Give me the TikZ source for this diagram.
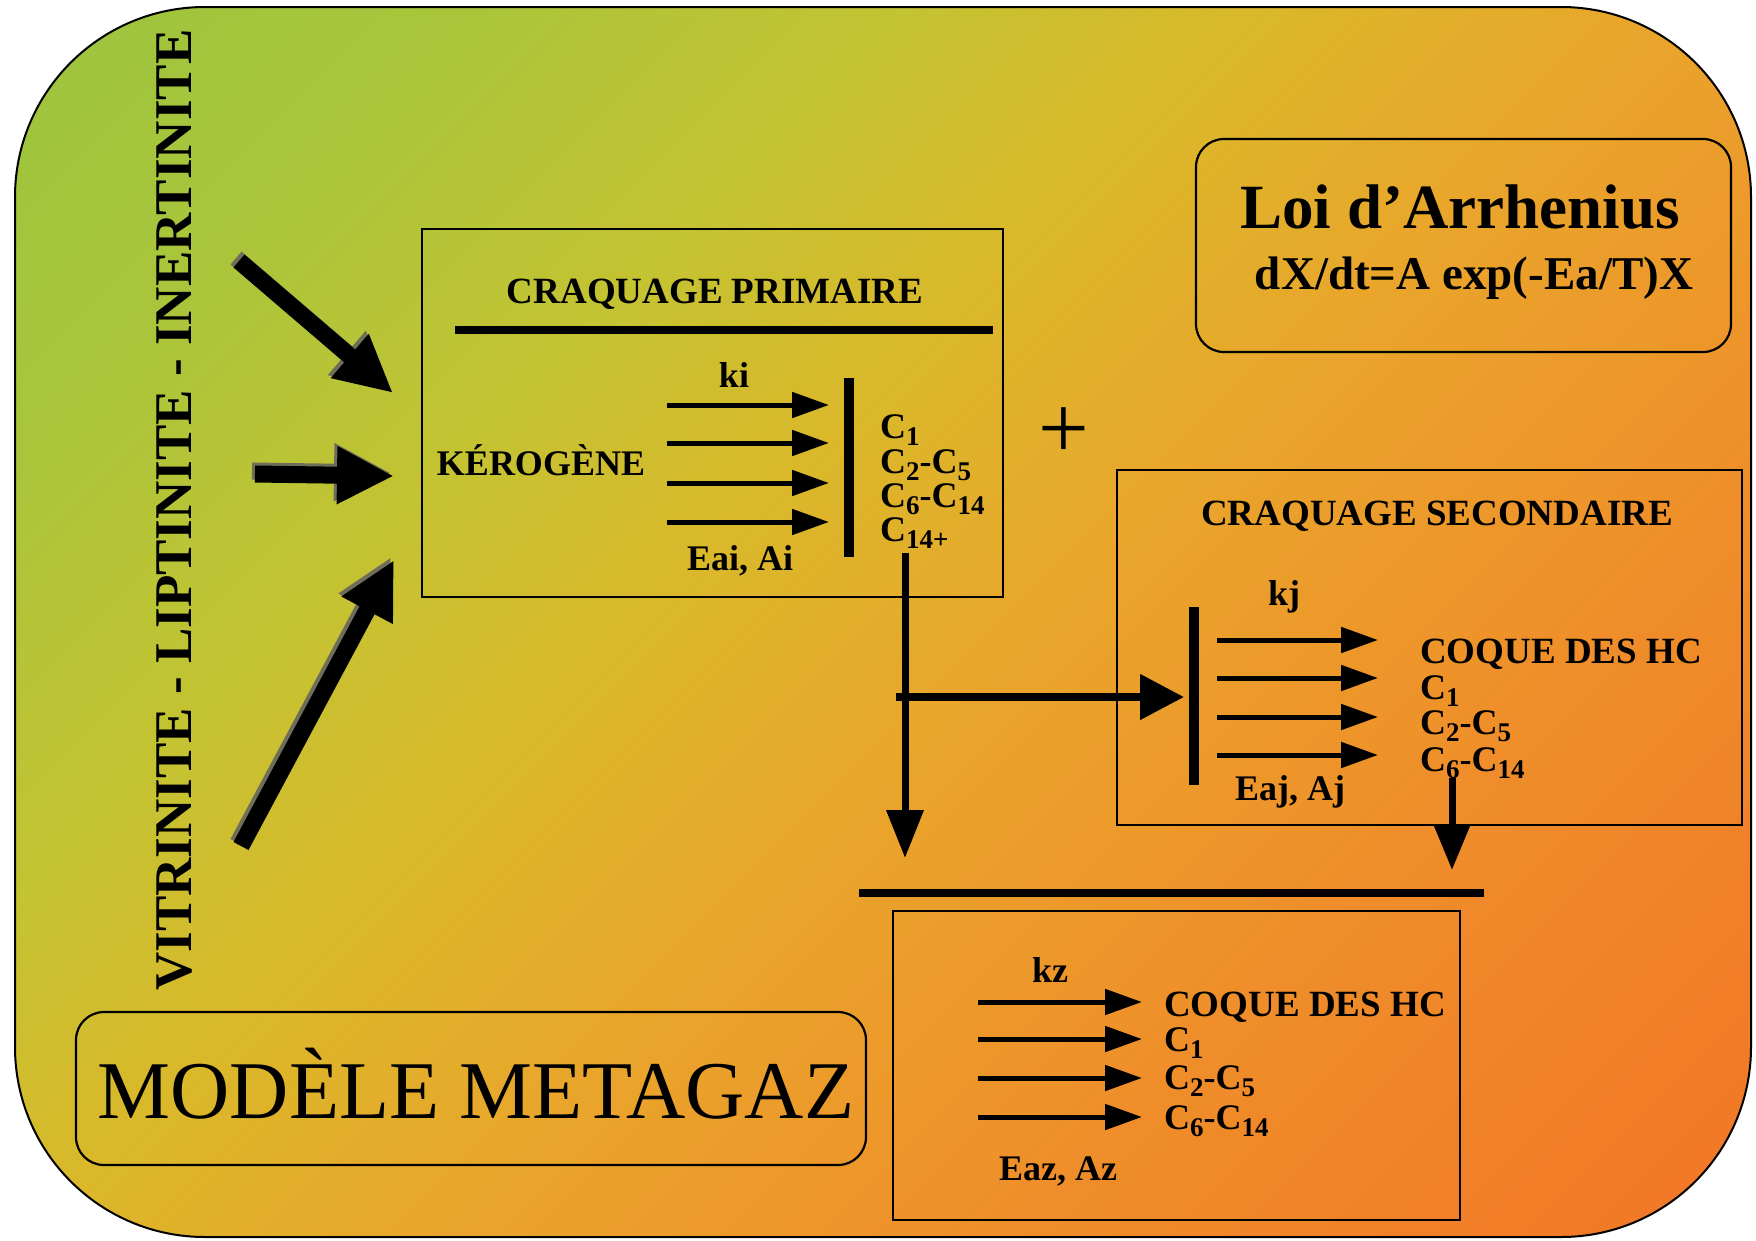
\documentclass[tikz,border=0pt]{standalone}
\usepackage{fontspec}
\setmainfont{Liberation Serif}
\usetikzlibrary{arrows.meta}
\definecolor{g0}{HTML}{9CC43E}
\definecolor{g1}{HTML}{AAC53B}
\definecolor{g2}{HTML}{C4C332}
\definecolor{g3}{HTML}{DAB82A}
\definecolor{g4}{HTML}{E9A62B}
\definecolor{g5}{HTML}{EF8E2A}
\definecolor{g6}{HTML}{F27526}
\definecolor{shadowgray}{HTML}{6E6E5A}
% corners of the path map to 14.6bp (top-left) and 85.4bp (bottom-right)
\pgfdeclarehorizontalshading{bgshade}{100bp}{color(0bp)=(g0); color(14.6bp)=(g0); color(25.2bp)=(g1); color(35.8bp)=(g2); color(44.3bp)=(g3); color(53.5bp)=(g4); color(67.6bp)=(g5); color(85.4bp)=(g6); color(100bp)=(g6)}
\newcommand\fs[1]{\fontsize{#1}{#1}\selectfont}
\newcommand\csub[1]{\raisebox{-0.2em}{\fontsize{27}{27}\selectfont #1}}
\begin{document}
\begin{tikzpicture}[x=1pt,y=-1pt,
  mylbl/.style={font=\bfseries\fs{36}, inner sep=0pt},
  mybox/.style={draw, line width=2.2pt, inner sep=0pt},
  myrbox/.style={mybox, rounded corners=28pt},
  smallarrow/.style={line width=5pt, -{Triangle[length=37pt,width=25pt]}},
  fatarrow/.style={line width=17pt, -{Triangle[length=57pt,width=54pt]}},
  mybar/.style={line width=10pt},
  bigline/.style={line width=8pt},
]
\path[use as bounding box] (0,0) rectangle (1756,1240);
\fill[white] (0,0) rectangle (1756,1240);
\shadedraw[shading=bgshade, shading angle=-45, rounded corners=190pt, line width=2pt] (15,7) rectangle (1751,1237);

% vertical label
\node[rotate=90, font=\bfseries\fs{53}, inner sep=0pt] (macerals) at (175,510) {VITRINITE - LIPTINITE - INERTINITE};

% fat arrows
\coordinate (t1) at (239,261); \coordinate (h1) at (393,393);
\coordinate (t2) at (255,474); \coordinate (h2) at (394,476);
\coordinate (t3) at (241,846); \coordinate (h3) at (394,560);
\begin{scope}[transform canvas={xshift=-3pt,yshift=3pt}]
\draw[fatarrow, shadowgray] (t1) -- (h1);
\draw[fatarrow, shadowgray] (t2) -- (h2);
\draw[fatarrow, shadowgray] (t3) -- (h3);
\end{scope}
\draw[fatarrow] (t1) -- (h1);
\draw[fatarrow] (t2) -- (h2);
\draw[fatarrow] (t3) -- (h3);

% primary box
\node[mybox, line width=2.5pt, minimum width=581pt, minimum height=368pt] (prim) at (712.5,413) {};
\node[mylbl, font=\bfseries\fs{37}, anchor=base] (primtitle) at (715,303) {CRAQUAGE PRIMAIRE};
\coordinate (pl1) at (455,330); \coordinate (pl2) at (993,330);
\draw[bigline] (pl1) -- (pl2);
\node[mylbl, anchor=base] (ki) at (734,387) {ki};
\node[mylbl, anchor=base] (kero) at (541,475) {KÉROGÈNE};
\foreach \i/\y in {1/405,2/443,3/483,4/522}{
  \coordinate (pa\i) at (667,\y); \coordinate (pb\i) at (829,\y);
  \draw[smallarrow] (pa\i) -- (pb\i);
}
\node[mylbl, anchor=base] (eai) at (740,570) {Eai, Ai};
\coordinate (pbar1) at (849,378); \coordinate (pbar2) at (849,557);
\draw[mybar] (pbar1) -- (pbar2);
\node[mylbl, anchor=base west] (pc1) at (880,438) {C\csub{1}};
\node[mylbl, anchor=base west] (pc2) at (880,473) {C\csub{2}-C\csub{5}};
\node[mylbl, anchor=base west] (pc3) at (880,507) {C\csub{6}-C\csub{14}};
\node[mylbl, anchor=base west] (pc4) at (880,541) {C\csub{14+}};

% plus
\node[font=\fs{90}, inner sep=0pt] (plus) at (1064,433) {+};

% connectors from primary
\coordinate (d1s) at (905,553); \coordinate (d1e) at (905,858);
\draw[line width=7pt, -{Triangle[length=48pt,width=36pt]}] (d1s) -- (d1e);
\coordinate (b1s) at (896,697); \coordinate (b1e) at (1184,697);
\draw[line width=8pt, -{Triangle[length=44pt,width=44pt]}] (b1s) -- (b1e);

% Arrhenius
\node[myrbox, minimum width=535pt, minimum height=213pt] (arrh) at (1463.5,245.5) {};
\node[font=\bfseries\fs{63}, inner sep=0pt, anchor=base] (arrhtitle) at (1460,228) {Loi d’Arrhenius};
\node[font=\bfseries\fs{47}, inner sep=0pt, anchor=base] (arrheq) at (1474,289) {dX/dt=A exp(-Ea/T)X};

% secondary box
\node[mybox, minimum width=625pt, minimum height=355pt] (sec) at (1429.5,647.5) {};
\node[mylbl, font=\bfseries\fs{37}, anchor=base] (sectitle) at (1437,525) {CRAQUAGE SECONDAIRE};
\node[mylbl, anchor=base] (kj) at (1284,605) {kj};
\coordinate (sbar1) at (1194,607); \coordinate (sbar2) at (1194,785);
\draw[mybar] (sbar1) -- (sbar2);
\foreach \i/\y in {1/640,2/678,3/717,4/755}{
  \coordinate (sa\i) at (1217,\y); \coordinate (sb\i) at (1378,\y);
  \draw[smallarrow] (sa\i) -- (sb\i);
}
\node[mylbl, font=\bfseries\fs{37}, anchor=base west] (sc0) at (1420,663) {COQUE DES HC};
\node[mylbl, anchor=base west] (sc1) at (1420,699) {C\csub{1}};
\node[mylbl, anchor=base west] (sc2) at (1420,734) {C\csub{2}-C\csub{5}};
\node[mylbl, anchor=base west] (sc3) at (1420,771) {C\csub{6}-C\csub{14}};
\node[mylbl, anchor=base] (eaj) at (1290,800) {Eaj, Aj};
\coordinate (d2s) at (1452,778); \coordinate (d2e) at (1452,870);
\draw[line width=7pt, -{Triangle[length=44pt,width=34pt]}] (d2s) -- (d2e);

% bottom
\coordinate (bl1) at (859,893); \coordinate (bl2) at (1484,893);
\draw[bigline] (bl1) -- (bl2);
\node[mybox, minimum width=567pt, minimum height=309pt] (bot) at (1176.5,1065.5) {};
\node[mylbl, anchor=base] (kz) at (1050,982) {kz};
\foreach \i/\y in {1/1002,2/1039,3/1078,4/1117}{
  \coordinate (za\i) at (978,\y); \coordinate (zb\i) at (1142,\y);
  \draw[smallarrow] (za\i) -- (zb\i);
}
\node[mylbl, font=\bfseries\fs{37}, anchor=base west] (zc0) at (1164,1016) {COQUE DES HC};
\node[mylbl, anchor=base west] (zc1) at (1164,1051) {C\csub{1}};
\node[mylbl, anchor=base west] (zc2) at (1164,1089) {C\csub{2}-C\csub{5}};
\node[mylbl, anchor=base west] (zc3) at (1164,1129) {C\csub{6}-C\csub{14}};
\node[mylbl, anchor=base] (eaz) at (1058,1180) {Eaz, Az};

% model box
\node[myrbox, minimum width=790pt, minimum height=153pt] (model) at (471,1088.5) {};
\node[font=\fs{82}, inner sep=0pt, anchor=base] (modeltxt) at (476,1118) {MODÈLE METAGAZ};
\end{tikzpicture}
\end{document}
